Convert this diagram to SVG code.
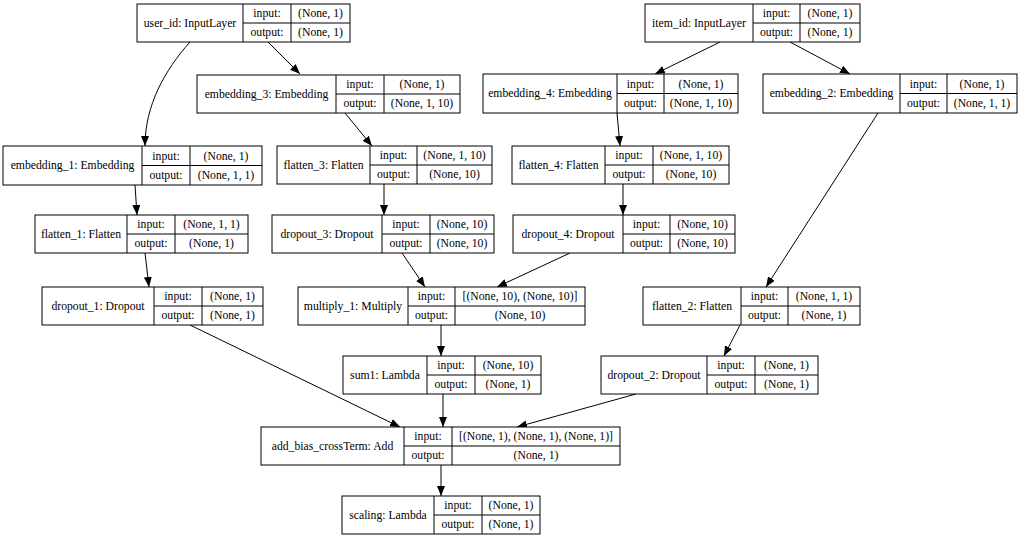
<svg xmlns="http://www.w3.org/2000/svg" width="1024" height="542" viewBox="0 0 1024 542">
<style>
.b{fill:#fff;stroke:#000;stroke-width:1}
.l{fill:none;stroke:#000;stroke-width:1}
text{font-family:"Liberation Serif","Times New Roman","DejaVu Serif",serif;font-size:11.7px;fill:#000;text-anchor:middle;dominant-baseline:central}
.e{fill:none;stroke:#000;stroke-width:1;marker-end:url(#ah)}
</style>
<defs>
<marker id="ah" markerUnits="userSpaceOnUse" markerWidth="10" markerHeight="8" viewBox="0 0 10 8" refX="10" refY="4" orient="auto">
<path d="M0,0 L10,4 L0,8 z" fill="#000"/>
</marker>
</defs>
<rect width="1024" height="542" fill="#fff"/>
<g id="connectors">
<path class="e" d="M190,42 C165,70 145,105 145,146"/>
<path class="e" d="M268,42 L300,74"/>
<path class="e" d="M720,42 L655,74"/>
<path class="e" d="M790,42 L850,74"/>
<path class="e" d="M345,113 L372,146"/>
<path class="e" d="M617,113 L620,146"/>
<path class="e" d="M878,113 L766,287"/>
<path class="e" d="M135,185 L137,215"/>
<path class="e" d="M384,184 L384,215"/>
<path class="e" d="M623,184 L623,215"/>
<path class="e" d="M145,253 L149,287"/>
<path class="e" d="M402,253 L425,287"/>
<path class="e" d="M570,253 L497,287"/>
<path class="e" d="M190,325 L400,427"/>
<path class="e" d="M441,325 L441,356"/>
<path class="e" d="M740,325 L724,356"/>
<path class="e" d="M443,394 L443,427"/>
<path class="e" d="M636,394 L517,427"/>
<path class="e" d="M441,465 L441,496"/>
</g>
<g id="user_id">
<rect class="b" x="137" y="4" width="213" height="38"/>
<path class="l" d="M243,4 V42 M291,4 V42 M243,23 H350"/>
<text x="190" y="23">user_id: InputLayer</text>
<text x="267" y="13.5">input:</text><text x="267" y="32.5">output:</text>
<text x="320.5" y="13.5">(None, 1)</text><text x="320.5" y="32.5">(None, 1)</text>
</g>
<g id="item_id">
<rect class="b" x="645" y="4" width="215" height="38"/>
<path class="l" d="M753,4 V42 M800,4 V42 M753,23 H860"/>
<text x="699" y="23">item_id: InputLayer</text>
<text x="776.5" y="13.5">input:</text><text x="776.5" y="32.5">output:</text>
<text x="830" y="13.5">(None, 1)</text><text x="830" y="32.5">(None, 1)</text>
</g>
<g id="embedding_3">
<rect class="b" x="197" y="75" width="263" height="38"/>
<path class="l" d="M336,75 V113 M384,75 V113 M336,94 H460"/>
<text x="266.5" y="94">embedding_3: Embedding</text>
<text x="360" y="84.5">input:</text><text x="360" y="103.5">output:</text>
<text x="422" y="84.5">(None, 1)</text><text x="422" y="103.5">(None, 1, 10)</text>
</g>
<g id="embedding_4">
<rect class="b" x="483" y="74" width="255" height="39"/>
<path class="l" d="M617,74 V113 M664,74 V113 M617,93.5 H738"/>
<text x="550" y="93.5">embedding_4: Embedding</text>
<text x="640.5" y="84">input:</text><text x="640.5" y="103">output:</text>
<text x="701" y="84">(None, 1)</text><text x="701" y="103">(None, 1, 10)</text>
</g>
<g id="embedding_2">
<rect class="b" x="763" y="74" width="254" height="39"/>
<path class="l" d="M900,74 V113 M947,74 V113 M900,93.5 H1017"/>
<text x="831.5" y="93.5">embedding_2: Embedding</text>
<text x="923.5" y="84">input:</text><text x="923.5" y="103">output:</text>
<text x="982" y="84">(None, 1)</text><text x="982" y="103">(None, 1, 1)</text>
</g>
<g id="embedding_1">
<rect class="b" x="3" y="146" width="259" height="39"/>
<path class="l" d="M142,146 V185 M190,146 V185 M142,165.5 H262"/>
<text x="72.5" y="165.5">embedding_1: Embedding</text>
<text x="166" y="156">input:</text><text x="166" y="175">output:</text>
<text x="226" y="156">(None, 1)</text><text x="226" y="175">(None, 1, 1)</text>
</g>
<g id="flatten_3">
<rect class="b" x="277" y="146" width="215" height="38"/>
<path class="l" d="M370,146 V184 M417,146 V184 M370,165 H492"/>
<text x="323.5" y="165">flatten_3: Flatten</text>
<text x="393.5" y="155.5">input:</text><text x="393.5" y="174.5">output:</text>
<text x="454.5" y="155.5">(None, 1, 10)</text><text x="454.5" y="174.5">(None, 10)</text>
</g>
<g id="flatten_4">
<rect class="b" x="512" y="146" width="217" height="38"/>
<path class="l" d="M605,146 V184 M653,146 V184 M605,165 H729"/>
<text x="558.5" y="165">flatten_4: Flatten</text>
<text x="629" y="155.5">input:</text><text x="629" y="174.5">output:</text>
<text x="691" y="155.5">(None, 1, 10)</text><text x="691" y="174.5">(None, 10)</text>
</g>
<g id="flatten_1">
<rect class="b" x="35" y="215" width="213" height="38"/>
<path class="l" d="M127,215 V253 M175,215 V253 M127,234 H248"/>
<text x="81" y="234">flatten_1: Flatten</text>
<text x="151" y="224.5">input:</text><text x="151" y="243.5">output:</text>
<text x="211.5" y="224.5">(None, 1, 1)</text><text x="211.5" y="243.5">(None, 1)</text>
</g>
<g id="dropout_3">
<rect class="b" x="272" y="215" width="222" height="38"/>
<path class="l" d="M382,215 V253 M430,215 V253 M382,234 H494"/>
<text x="327" y="234">dropout_3: Dropout</text>
<text x="406" y="224.5">input:</text><text x="406" y="243.5">output:</text>
<text x="462" y="224.5">(None, 10)</text><text x="462" y="243.5">(None, 10)</text>
</g>
<g id="dropout_4">
<rect class="b" x="513" y="215" width="222" height="38"/>
<path class="l" d="M623,215 V253 M670,215 V253 M623,234 H735"/>
<text x="568" y="234">dropout_4: Dropout</text>
<text x="646.5" y="224.5">input:</text><text x="646.5" y="243.5">output:</text>
<text x="702.5" y="224.5">(None, 10)</text><text x="702.5" y="243.5">(None, 10)</text>
</g>
<g id="dropout_1">
<rect class="b" x="42" y="287" width="221" height="38"/>
<path class="l" d="M154,287 V325 M202,287 V325 M154,306 H263"/>
<text x="98" y="306">dropout_1: Dropout</text>
<text x="178" y="296.5">input:</text><text x="178" y="315.5">output:</text>
<text x="232.5" y="296.5">(None, 1)</text><text x="232.5" y="315.5">(None, 1)</text>
</g>
<g id="multiply_1">
<rect class="b" x="298" y="287" width="287" height="38"/>
<path class="l" d="M408,287 V325 M455,287 V325 M408,306 H585"/>
<text x="353" y="306">multiply_1: Multiply</text>
<text x="431.5" y="296.5">input:</text><text x="431.5" y="315.5">output:</text>
<text x="520" y="296.5">[(None, 10), (None, 10)]</text><text x="520" y="315.5">(None, 10)</text>
</g>
<g id="flatten_2">
<rect class="b" x="643" y="287" width="217" height="38"/>
<path class="l" d="M741,287 V325 M788,287 V325 M741,306 H860"/>
<text x="692" y="306">flatten_2: Flatten</text>
<text x="764.5" y="296.5">input:</text><text x="764.5" y="315.5">output:</text>
<text x="824" y="296.5">(None, 1, 1)</text><text x="824" y="315.5">(None, 1)</text>
</g>
<g id="sum1">
<rect class="b" x="343" y="356" width="198" height="38"/>
<path class="l" d="M427,356 V394 M475,356 V394 M427,375 H541"/>
<text x="385" y="375">sum1: Lambda</text>
<text x="451" y="365.5">input:</text><text x="451" y="384.5">output:</text>
<text x="508" y="365.5">(None, 10)</text><text x="508" y="384.5">(None, 1)</text>
</g>
<g id="dropout_2">
<rect class="b" x="601" y="356" width="217" height="38"/>
<path class="l" d="M707,356 V394 M755,356 V394 M707,375 H818"/>
<text x="654" y="375">dropout_2: Dropout</text>
<text x="731" y="365.5">input:</text><text x="731" y="384.5">output:</text>
<text x="786.5" y="365.5">(None, 1)</text><text x="786.5" y="384.5">(None, 1)</text>
</g>
<g id="add_bias_crossTerm">
<rect class="b" x="261" y="427" width="359" height="38"/>
<path class="l" d="M404,427 V465 M452,427 V465 M404,446 H620"/>
<text x="332.5" y="446">add_bias_crossTerm: Add</text>
<text x="428" y="436.5">input:</text><text x="428" y="455.5">output:</text>
<text x="536" y="436.5">[(None, 1), (None, 1), (None, 1)]</text><text x="536" y="455.5">(None, 1)</text>
</g>
<g id="scaling">
<rect class="b" x="342" y="496" width="198" height="38"/>
<path class="l" d="M434,496 V534 M482,496 V534 M434,515 H540"/>
<text x="388" y="515">scaling: Lambda</text>
<text x="458" y="505.5">input:</text><text x="458" y="524.5">output:</text>
<text x="511" y="505.5">(None, 1)</text><text x="511" y="524.5">(None, 1)</text>
</g>
</svg>
